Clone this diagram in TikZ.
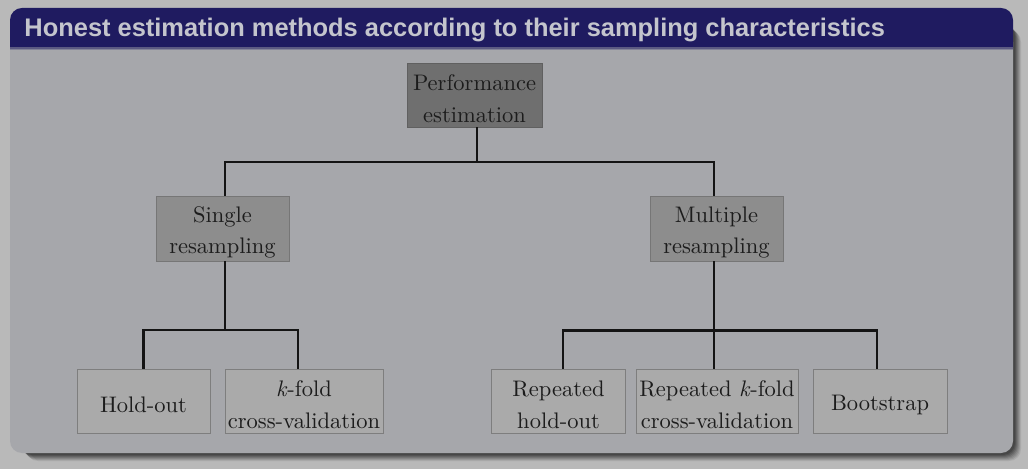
\documentclass[tikz,border=0pt]{standalone}
\usepackage{fontspec}
\newfontfamily\titlefont{Liberation Sans}
\usetikzlibrary{calc}
\definecolor{pagebg}{HTML}{B9B9B9}
\definecolor{bodybg}{HTML}{A6A7AB}
\definecolor{titlebg}{HTML}{1F1B60}
\definecolor{titlefg}{HTML}{C4C5CD}
\definecolor{topfill}{HTML}{6F6F6F}
\definecolor{topdraw}{HTML}{606060}
\definecolor{midfill}{HTML}{8D8D8D}
\definecolor{middraw}{HTML}{767676}
\definecolor{leaffill}{HTML}{AAAAAA}
\definecolor{leafdraw}{HTML}{7E7E7E}
\definecolor{txt}{HTML}{1C1C1C}
\def\u{0.4444pt}
\newcommand{\lift}{\rule{0pt}{10.5pt}}
\tikzset{
  x=0.4444pt, y=-0.4444pt,
  box/.style={rectangle, align=center, inner sep=0pt, text=txt,
    font=\fontsize{10}{14.1}\selectfont, line width=0.4pt},
  topbox/.style={box, fill=topfill, draw=topdraw},
  midbox/.style={box, fill=midfill, draw=middraw},
  leafbox/.style={box, fill=leaffill, draw=leafdraw},
  conn/.style={line width=1.25pt, draw=black!92},
}
\begin{document}
\begin{tikzpicture}
% page
\fill[pagebg] (0,0) rectangle (1028,469);
\useasboundingbox (0,0) rectangle (1028,469);
% shadow
\foreach \o/\op in {10/0.08,9/0.10,8/0.10,7/0.12,6/0.14,5/0.16,4/0.16}{
  \fill[black, opacity=\op, rounded corners=12*\u]
    (10+\o+6,8+\o+12) rectangle (1013+\o-2,453+\o-2);
}
% body
\fill[bodybg, rounded corners=12*\u] (10,30) rectangle (1013,453);
% title bar
\fill[titlebg, rounded corners=12*\u] (10,8) rectangle (1013,60);
\fill[bodybg] (10,50) rectangle (1013,62);
\fill[titlebg] (10,44) rectangle (1013,47);
\fill[titlebg!55!bodybg] (10,47) rectangle (1013,49);
\fill[titlebg!25!bodybg] (10,49) rectangle (1013,50.5);
\node[anchor=base west, text=titlefg, inner sep=0pt,
  font=\titlefont\bfseries\fontsize{11.3}{14}\selectfont] (title) at (24,37)
  {Honest estimation methods according to their sampling characteristics};
% nodes
\node[topbox, minimum width=135*\u, minimum height=64*\u] (perf) at (474.5,95) {\lift Performance\\estimation};
\node[midbox, minimum width=133*\u, minimum height=65*\u] (single) at (222.5,228.5) {\lift Single\\resampling};
\node[midbox, minimum width=133*\u, minimum height=65*\u] (multi) at (716.5,228.5) {\lift Multiple\\resampling};
\node[leafbox, minimum width=133*\u, minimum height=64*\u] (hold) at (143.5,401) {\lift Hold-out};
\node[leafbox, minimum width=158*\u, minimum height=64*\u] (kfold) at (304,401) {\lift\textit{k}-fold\\cross-validation};
\node[leafbox, minimum width=134*\u, minimum height=64*\u] (rhold) at (558.5,401) {\lift Repeated\\hold-out};
\node[leafbox, minimum width=162*\u, minimum height=64*\u] (rkfold) at (717,401) {\lift Repeated \textit{k}-fold\\cross-validation};
\node[leafbox, minimum width=134*\u, minimum height=64*\u] (boot) at (880,401) {\lift Bootstrap};
% junction coordinates
\coordinate (j0) at (477,162);
\coordinate (jl) at (225,162);
\coordinate (jr) at (714,162);
\coordinate (a1) at (225,330);
\coordinate (a2) at (143.5,330);
\coordinate (a3) at (298,330);
\coordinate (b1) at (714,330.5);
\coordinate (b2) at (563,330.5);
\coordinate (b3) at (877,330.5);
% connectors
\draw[conn] (perf.south -| j0) -- (j0);
\draw[conn] (single.north -| jl) -- (jl) -- (jr) -- (multi.north -| jr);
\draw[conn] (single.south -| a1) -- (a1);
\draw[conn] (hold.north -| a2) -- (a2) -- (a3) -- (kfold.north -| a3);
\draw[conn] (multi.south -| b1) -- (b1);
\draw[conn] (rhold.north -| b2) -- (b2) -- (b3) -- (boot.north -| b3);
\draw[conn] (b1) -- (rkfold.north -| b1);
\end{tikzpicture}
\end{document}
